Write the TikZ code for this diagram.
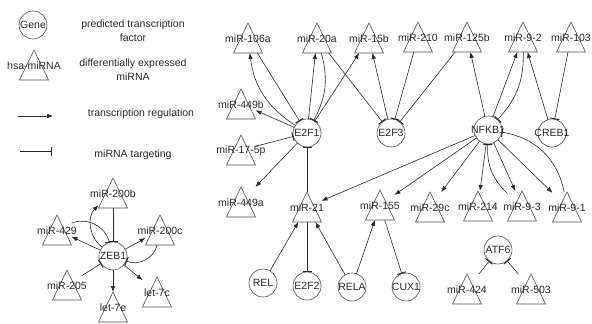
\documentclass[tikz,border=0pt]{standalone}
\usepackage{fontspec}
\setmainfont{Liberation Sans}
\usetikzlibrary{arrows.meta}
\tikzset{
  shapeline/.style={draw=black!70, line width=0.6pt},
  tribox/.style={rectangle, minimum width=29pt, minimum height=30pt, inner sep=0pt, outer sep=0pt},
  genec/.style={circle, shapeline, minimum size=28pt, inner sep=0pt, outer sep=0pt},
  lab/.style={inner sep=0pt, font=\fontsize{10.5}{12}\selectfont, text=black!85},
  legtext/.style={inner sep=0pt, align=center, font=\fontsize{10.5}{14}\selectfont, text=black!85},
  edge/.style={draw=black!85, line width=0.6pt},
  act/.style={edge, -{Latex[length=6pt,width=4.5pt]}},
  inh/.style={edge, -{Bar[width=9pt,line width=1pt]}},
}
\newcommand{\mirnode}[3]{%
  \node[tribox] (#1) at (#2) {};
  \draw[shapeline] (#1.north) -- (#1.south east) -- (#1.south west) -- cycle;
  \node[lab] (#1l) at ([yshift=-1pt]#1.center) {#3};}
\newcommand{\genenode}[3]{%
  \node[genec] (#1) at (#2) {};
  \node[lab] (#1l) at (#1.center) {#3};}
\begin{document}
\begin{tikzpicture}[x=1pt,y=-1pt]
\useasboundingbox (0,0) rectangle (592,324);
% legend
\genenode{lgene}{33,25}{Gene}
\node[legtext] (lt1) at (133,31) {predicted transcription\\factor};
\mirnode{lmir}{34,65}{hsa-miRNA}
\node[legtext] (lt2) at (133,70) {differentially expressed\\miRNA};
\coordinate (la1) at (18,116);
\coordinate (la2) at (53,116);
\draw[act] (la1) -- (la2);
\node[legtext] (lt3) at (141,114) {transcription regulation};
\coordinate (lb1) at (20,151);
\coordinate (lb2) at (52,151);
\draw[inh] (lb1) -- (lb2);
\node[legtext] (lt4) at (133,155) {miRNA targeting};
% genes
\genenode{e2f1}{307,133}{E2F1}
\genenode{e2f3}{391,133}{E2F3}
\genenode{nfkb1}{488,130}{NFKB1}
\genenode{creb1}{552,133}{CREB1}
\genenode{rel}{263,283}{REL}
\genenode{e2f2}{307,286}{E2F2}
\genenode{rela}{352,287}{RELA}
\genenode{cux1}{406,287}{CUX1}
\genenode{atf6}{498,250}{ATF6}
\genenode{zeb1}{113,256}{ZEB1}
% miRNAs
\mirnode{m106a}{248,38}{miR-106a}
\mirnode{m20a}{317,38}{miR-20a}
\mirnode{m15b}{369,38}{miR-15b}
\mirnode{m210}{418,37}{miR-210}
\mirnode{m125b}{467,37}{miR-125b}
\mirnode{m92}{523,37}{miR-9-2}
\mirnode{m103}{571,37}{miR-103}
\mirnode{m449b}{241,104}{miR-449b}
\mirnode{m175p}{241,150}{miR-17-5p}
\mirnode{m449a}{241,202}{miR-449a}
\mirnode{m21}{307,207}{miR-21}
\mirnode{m155}{380,205}{miR-155}
\mirnode{m29c}{430,207}{miR-29c}
\mirnode{m214}{478,206}{miR-214}
\mirnode{m93}{522,206}{miR-9-3}
\mirnode{m91}{567,207}{miR-9-1}
\mirnode{m424}{467,289}{miR-424}
\mirnode{m503}{531,289}{miR-503}
\mirnode{m200b}{113,193}{miR-200b}
\mirnode{m429}{57,230}{miR-429}
\mirnode{m200c}{160,230}{miR-200c}
\mirnode{m205}{67,285}{miR-205}
\mirnode{let7e}{113,307}{let-7e}
\mirnode{let7c}{157,292}{let-7c}
% E2F1 edges
\draw[act] (e2f1) to[bend left=25] (m106a);
\draw[inh] (m106a) -- (e2f1);
\draw[act] (e2f1) -- (m20a);
\draw[inh] (m20a) to[bend left=22] (e2f1);
\draw[act] (e2f1) -- (m15b);
\draw[act] (e2f1) -- (m449b);
\draw[inh] (m175p) -- (e2f1);
\draw[act] (e2f1) -- (m449a);
\draw[inh] (m21) -- (e2f1);
% E2F3 edges
\draw[inh] (m20a) -- (e2f3);
\draw[act] (e2f3) -- (m15b);
\draw[inh] (m210) -- (e2f3);
\draw[inh] (m125b) -- (e2f3);
% NFKB1 edges
\draw[act] (nfkb1) -- (m125b);
\draw[act] (nfkb1) -- (m92);
\draw[inh] (m92) to[bend left=22] (nfkb1);
\draw[act] (creb1) -- (m92);
\draw[inh] (m103) -- (creb1);
\draw[act] (nfkb1) -- (m21);
\draw[act] (nfkb1) -- (m155);
\draw[act] (nfkb1) -- (m29c);
\draw[act] (nfkb1) -- (m214);
\draw[act] (nfkb1) -- (m93);
\draw[inh] (m93) to[bend left=25] (nfkb1);
\draw[act] (nfkb1) -- (m91);
\draw[inh] (m91) to[bend right=35] (nfkb1);
% lower edges
\draw[act] (rel) -- (m21);
\draw[inh] (m21) -- (e2f2);
\draw[act] (rela) -- (m21);
\draw[act] (rela) -- (m155);
\draw[inh] (m155) -- (cux1);
\draw[inh] (m424) -- (atf6);
\draw[inh] (m503) -- (atf6);
% ZEB1 edges
\draw[inh] (m200b) -- (zeb1);
\draw[act] (zeb1) to[bend left=50] (m200b);
\draw[act] (zeb1) -- (m429);
\draw[inh] (m429) to[bend left=50] (zeb1);
\draw[act] (zeb1) -- (m200c);
\draw[inh] (m200c) to[bend left=50] (zeb1);
\draw[inh] (m205) -- (zeb1);
\draw[act] (zeb1) -- (let7e);
\draw[act] (zeb1) -- (let7c);
\end{tikzpicture}
\end{document}
